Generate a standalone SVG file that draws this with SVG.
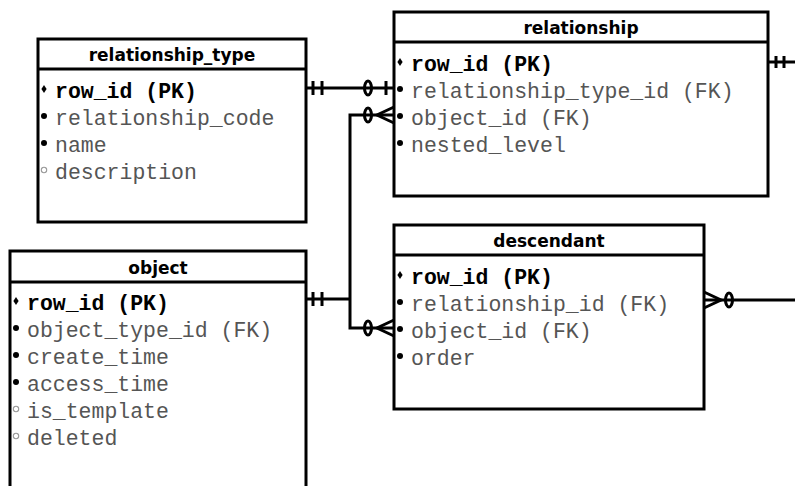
<svg xmlns="http://www.w3.org/2000/svg" xmlns:xlink="http://www.w3.org/1999/xlink" width="795" height="486" viewBox="0 0 795 486">
  <style>
    .box { fill: #ffffff; stroke: #000000; stroke-width: 3; }
    .sep { stroke: #000000; stroke-width: 3; }
    .title { font-family: "DejaVu Sans", "Liberation Sans", sans-serif; font-weight: bold; font-size: 17px; fill: #000000; text-anchor: middle; }
    .pk { font-family: "Liberation Mono", "DejaVu Sans Mono", monospace; font-weight: bold; font-size: 21.5px; fill: #000000; }
    .col { font-family: "Liberation Mono", "DejaVu Sans Mono", monospace; font-size: 21.5px; fill: #555555; }
    .link { fill: none; stroke: #000000; stroke-width: 3; }
    .mark { fill: none; stroke: #000000; stroke-width: 3; }
  </style>
  <defs>
    <!-- column markers: key, mandatory, optional -->
    <path id="key" d="M0,-4 L2.6,0 L0,4 L-2.6,0 Z" fill="#000000"/>
    <circle id="req" r="3" fill="#000000"/>
    <circle id="opt" r="2.7" fill="none" stroke="#999999" stroke-width="1.1"/>
  </defs>

  <rect width="795" height="486" fill="#ffffff"/>

  <!-- relationship_type -->
  <g id="relationship_type">
    <rect class="box" x="38" y="39" width="268" height="183"/>
    <line class="sep" x1="38" y1="69" x2="306" y2="69"/>
    <text class="title" x="172" y="61">relationship_type</text>
    <use xlink:href="#key" x="44" y="89"/>
    <text class="pk" x="55" y="98">row_id (PK)</text>
    <use xlink:href="#req" x="44" y="116"/>
    <text class="col" x="55" y="125">relationship_code</text>
    <use xlink:href="#req" x="44" y="143"/>
    <text class="col" x="55" y="152">name</text>
    <use xlink:href="#opt" x="44" y="170"/>
    <text class="col" x="55" y="179">description</text>
  </g>

  <!-- relationship -->
  <g id="relationship">
    <rect class="box" x="394" y="12" width="374" height="184"/>
    <line class="sep" x1="394" y1="42" x2="768" y2="42"/>
    <text class="title" x="581" y="34">relationship</text>
    <use xlink:href="#key" x="400" y="62"/>
    <text class="pk" x="411" y="71">row_id (PK)</text>
    <use xlink:href="#req" x="400" y="89"/>
    <text class="col" x="411" y="98">relationship_type_id (FK)</text>
    <use xlink:href="#req" x="400" y="116"/>
    <text class="col" x="411" y="125">object_id (FK)</text>
    <use xlink:href="#req" x="400" y="143"/>
    <text class="col" x="411" y="152">nested_level</text>
  </g>

  <!-- descendant -->
  <g id="descendant">
    <rect class="box" x="394" y="225" width="310" height="184"/>
    <line class="sep" x1="394" y1="255" x2="704" y2="255"/>
    <text class="title" x="549" y="247">descendant</text>
    <use xlink:href="#key" x="400" y="275"/>
    <text class="pk" x="411" y="284">row_id (PK)</text>
    <use xlink:href="#req" x="400" y="302"/>
    <text class="col" x="411" y="311">relationship_id (FK)</text>
    <use xlink:href="#req" x="400" y="329"/>
    <text class="col" x="411" y="338">object_id (FK)</text>
    <use xlink:href="#req" x="400" y="356"/>
    <text class="col" x="411" y="365">order</text>
  </g>

  <!-- object (runs past the lower edge) -->
  <g id="object">
    <rect class="box" x="10" y="251" width="296" height="260"/>
    <line class="sep" x1="10" y1="282" x2="306" y2="282"/>
    <text class="title" x="158" y="274">object</text>
    <use xlink:href="#key" x="16" y="301"/>
    <text class="pk" x="27" y="310">row_id (PK)</text>
    <use xlink:href="#req" x="16" y="328"/>
    <text class="col" x="27" y="337">object_type_id (FK)</text>
    <use xlink:href="#req" x="16" y="355"/>
    <text class="col" x="27" y="364">create_time</text>
    <use xlink:href="#req" x="16" y="382"/>
    <text class="col" x="27" y="391">access_time</text>
    <use xlink:href="#opt" x="16" y="409"/>
    <text class="col" x="27" y="418">is_template</text>
    <use xlink:href="#opt" x="16" y="436"/>
    <text class="col" x="27" y="445">deleted</text>
  </g>

  <!-- connectors with crow's-foot ends -->
  <g id="connectors">
    <!-- relationship_type 1 : 0..1 relationship -->
    <line class="link" x1="306" y1="88" x2="394" y2="88"/>
    <line class="mark" x1="313" y1="81" x2="313" y2="95"/>
    <line class="mark" x1="322" y1="81" x2="322" y2="95"/>
    <ellipse class="mark" cx="368" cy="88" rx="3.5" ry="7" fill="#ffffff"/>
    <line class="mark" x1="386" y1="81" x2="386" y2="95"/>

    <!-- object 1 : 0..n relationship / descendant -->
    <polyline class="link" points="306,299 350,299"/>
    <line class="mark" x1="313" y1="292" x2="313" y2="306"/>
    <line class="mark" x1="322" y1="292" x2="322" y2="306"/>
    <polyline class="link" points="394,115 350,115 350,328 394,328"/>

    <ellipse class="mark" cx="368" cy="115" rx="3.5" ry="7" fill="#ffffff"/>
    <polyline class="mark" points="394,107 377,115 394,123"/>

    <ellipse class="mark" cx="368" cy="328" rx="3.5" ry="7" fill="#ffffff"/>
    <polyline class="mark" points="394,320 377,328 394,336"/>

    <!-- descendant 0..n : relationship (off to the right) -->
    <line class="link" x1="704" y1="300" x2="795" y2="300"/>
    <polyline class="mark" points="704,292 721,300 704,308"/>
    <ellipse class="mark" cx="729" cy="300" rx="3.5" ry="7" fill="#ffffff"/>

    <!-- relationship 1 : (off to the right) -->
    <line class="link" x1="768" y1="62" x2="795" y2="62"/>
    <line class="mark" x1="776" y1="56" x2="776" y2="68"/>
    <line class="mark" x1="784" y1="56" x2="784" y2="68"/>
  </g>
</svg>
